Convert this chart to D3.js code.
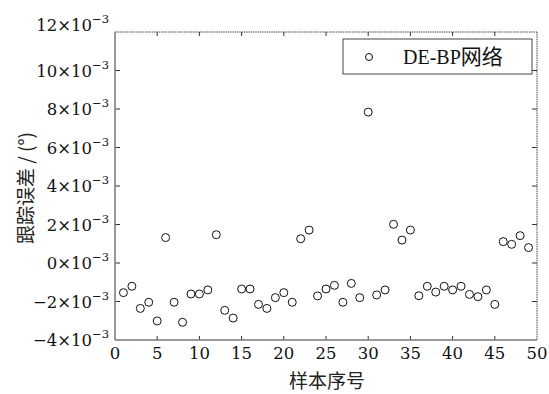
<!DOCTYPE html>
<html><head><meta charset="utf-8">
<script src="https://cdn.jsdelivr.net/npm/d3@7"></script>
<style>body{margin:0;background:#fff}svg{display:block}</style>
</head><body>
<script>
const samples = d3.range(1, 50);
const errorsE3 = [-1.54,-1.21,-2.36,-2.04,-3.01,1.32,-2.04,-3.08,-1.61,-1.61,
  -1.40,1.47,-2.46,-2.86,-1.35,-1.35,-2.15,-2.36,-1.80,-1.54,
  -2.04,1.26,1.71,-1.71,-1.35,-1.16,-2.04,-1.06,-1.80,7.84,
  -1.66,-1.40,2.01,1.19,1.71,-1.70,-1.21,-1.51,-1.21,-1.40,
  -1.21,-1.63,-1.75,-1.40,-2.15,1.11,0.97,1.42,0.80];
const xTicks = d3.range(0, 51, 5);
const yTicks = d3.range(-4, 13, 2);
const xLabel = "样本序号";
const yLabel = "跟踪误差 / (°)";
const legendLatin = "DE-BP";
const legendCJK = "网络";

const W = 549, H = 394;
const L = 115, R = 537, T = 32, B = 340;
const NUM = '"DejaVu Serif", serif';
const LAT = '"Liberation Serif", "DejaVu Serif", serif';
const CJK = '"Noto Sans CJK SC", sans-serif';
const svg = d3.select("body").append("svg").attr("width", W).attr("height", H);
const x = d3.scaleLinear().domain([0, 50]).range([L, R]);
const y = d3.scaleLinear().domain([-4, 12]).range([B, T]);

// ticks
const tk = svg.append("g").attr("stroke", "#333").attr("stroke-width", 1);
xTicks.slice(1, -1).forEach(t => {
  tk.append("line").attr("x1", x(t)).attr("x2", x(t)).attr("y1", B).attr("y2", B - 4);
  tk.append("line").attr("x1", x(t)).attr("x2", x(t)).attr("y1", T).attr("y2", T + 4);
});
yTicks.slice(1, -1).forEach(t => {
  tk.append("line").attr("x1", L).attr("x2", L + 5).attr("y1", y(t)).attr("y2", y(t));
  tk.append("line").attr("x1", R).attr("x2", R - 5).attr("y1", y(t)).attr("y2", y(t));
});

// frame
svg.append("line").attr("x1", L).attr("x2", R).attr("y1", T).attr("y2", T)
  .attr("stroke", "#444").attr("stroke-width", 1).attr("stroke-dasharray", "1.5,0.8");
svg.append("line").attr("x1", R).attr("x2", R).attr("y1", T).attr("y2", B)
  .attr("stroke", "#444").attr("stroke-width", 1).attr("stroke-dasharray", "1.5,0.8");
svg.append("line").attr("x1", L).attr("x2", R).attr("y1", B).attr("y2", B)
  .attr("stroke", "#777").attr("stroke-width", 1.5);
svg.append("line").attr("x1", L).attr("x2", L).attr("y1", T).attr("y2", B)
  .attr("stroke", "#777").attr("stroke-width", 1.5);

// x tick labels
svg.append("g").selectAll("text").data(xTicks).join("text")
  .style("font-family", NUM).style("font-size", "16.5px")
  .attr("x", d => x(d)).attr("y", B + 19).attr("text-anchor", "middle")
  .attr("fill", "#111").text(d => d);

// y tick labels
const yl = svg.append("g").selectAll("text").data(yTicks).join("text")
  .style("font-family", NUM).style("font-size", "16.5px")
  .attr("x", L - 6).attr("y", d => y(d) + 6 - (d === 12 ? 7 : 0)).attr("text-anchor", "end")
  .attr("fill", "#111");
yl.each(function(d) {
  const t = d3.select(this);
  t.append("tspan").text((d < 0 ? "\u2212" + (-d) : d) + "\u00d710");
  t.append("tspan").attr("dy", -8).style("font-size", "11.5px").text("\u22123");
});

// axis titles
svg.append("text").style("font-family", CJK).style("font-size", "19px")
  .attr("x", (L + R) / 2 + 1).attr("y", 388).attr("text-anchor", "middle")
  .attr("fill", "#222").text(xLabel);
svg.append("text").style("font-family", CJK).style("font-size", "19px")
  .attr("transform", `translate(33,${(T + B) / 2 + 2}) rotate(-90)`)
  .attr("text-anchor", "middle").attr("fill", "#222").text(yLabel);

// points
svg.append("g").selectAll("circle").data(samples).join("circle")
  .attr("cx", d => x(d)).attr("cy", (d, i) => y(errorsE3[i])).attr("r", 4)
  .attr("fill", "#fff").attr("stroke", "#111").attr("stroke-width", 1);

// legend
const lg = svg.append("g");
lg.append("rect").attr("x", 343).attr("y", 39).attr("width", 189).attr("height", 35)
  .attr("fill", "#fff").attr("stroke", "#444").attr("stroke-width", 1);
lg.append("circle").attr("cx", 369).attr("cy", 57).attr("r", 3.5)
  .attr("fill", "#fff").attr("stroke", "#111").attr("stroke-width", 1);
const lt = lg.append("text").attr("x", 403).attr("y", 64).attr("fill", "#111");
lt.append("tspan").style("font-family", LAT).style("font-size", "20px").text(legendLatin);
lt.append("tspan").style("font-family", CJK).style("font-size", "21px").text(legendCJK);
</script>
</body></html>
